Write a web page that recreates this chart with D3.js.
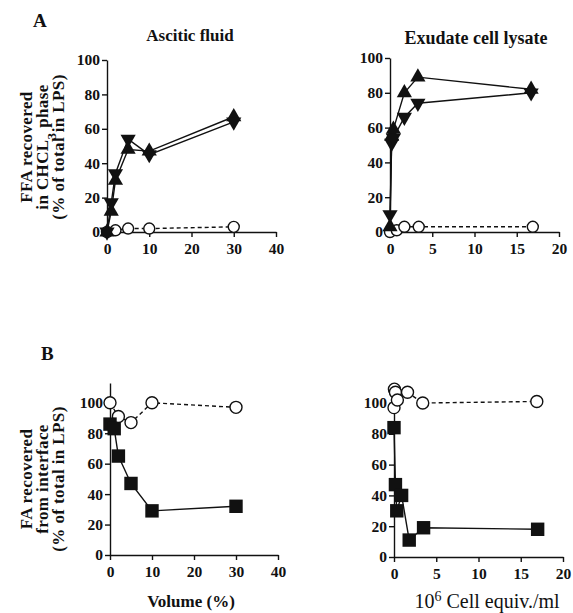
<!DOCTYPE html>
<html>
<head>
<meta charset="utf-8">
<script src="https://cdnjs.cloudflare.com/ajax/libs/d3/7.8.5/d3.min.js"></script>
<style>
  body { margin: 0; background: #fff; }
  svg text { font-family: "Liberation Serif", "DejaVu Serif", serif; font-weight: bold; fill: #111; }
  .axis path, .axis line { stroke: #111; stroke-width: 1.4; }
  .axis text { font-size: 15.5px; }
</style>
</head>
<body>
<svg width="573" height="613"></svg>
<script>

// ---- data ----
// panel A, ascitic fluid (x = volume %)
const ascX      = [0, 1, 2, 5, 10, 30];
const ascUp     = [0, 12, 30, 48, 47, 67];
const ascDown   = [0, 17, 34, 54, 45, 64];
const ascCircX  = [0, 2, 5, 10, 30];
const ascCirc   = [0, 1, 2, 2, 3];

// panel A, exudate cell lysate (x = 10^6 cell equiv./ml)
const lysX      = [0, 0.2, 0.4, 1.7, 3.3, 16.7];
const lysUp     = [3, 55, 59, 80, 89, 82];
const lysDown   = [10, 51, 54, 66, 74, 80];
const lysCircX  = [0, 0.8, 1.7, 3.4, 16.9];
const lysCirc   = [0, 1, 3, 3, 3];

// panel B, ascitic fluid
const ascBX     = [0, 1, 2, 5, 10, 30];
const ascSq     = [86, 83, 65, 47, 29, 32];
const ascBCircX = [0, 2, 5, 10, 30];
const ascBCirc  = [100, 91, 87, 100, 97];

// panel B, exudate cell lysate
const lysBX     = [0, 0.17, 0.33, 0.9, 1.8, 3.5, 17];
const lysSq     = [84, 47, 30, 40, 11, 19, 18];
const lysBCircX = [0, 0.05, 0.17, 0.4, 1.6, 3.4, 16.9];
const lysBCirc  = [97, 109, 107, 102, 107, 100, 101];

const yTicks = [0, 20, 40, 60, 80, 100];
const volTicks = [0, 10, 20, 30, 40];
const cellTicks = [0, 5, 10, 15, 20];

const zip = (xs, ys) => xs.map((x, i) => ({ x: x, y: ys[i] }));

const svg = d3.select('svg');

// one small plot
const panel = (opts) => {
  const x = d3.scaleLinear().domain(opts.xDomain).range(opts.xRange);
  const y = d3.scaleLinear().domain(opts.yDomain).range(opts.yRange);
  const g = svg.append('g');

  g.append('g')
    .attr('class', 'axis')
    .attr('transform', 'translate(0,' + y(0) + ')')
    .call(d3.axisBottom(x).tickValues(opts.xTicks).tickSize(5).tickSizeOuter(0).tickPadding(6));

  g.append('g')
    .attr('class', 'axis')
    .attr('transform', 'translate(' + x(0) + ',0)')
    .call(d3.axisLeft(y).tickValues(yTicks).tickSize(5).tickSizeOuter(0).tickPadding(2));

  const line = d3.line().x(d => x(d.x)).y(d => y(d.y));

  (opts.series || []).forEach(s => {
    g.append('path')
      .datum(s.data)
      .attr('d', line)
      .attr('fill', 'none')
      .attr('stroke', '#111')
      .attr('stroke-width', 1.4)
      .attr('stroke-dasharray', s.dash ? '4,3' : null);
  });

  (opts.series || []).forEach(s => {
    if (s.kind === 'circle') {
      g.selectAll(null).data(s.data).enter().append('circle')
        .attr('cx', d => x(d.x))
        .attr('cy', d => y(d.y))
        .attr('r', s.r)
        .attr('fill', '#fff')
        .attr('stroke', '#111')
        .attr('stroke-width', 1.4);
    } else {
      const sym = d3.symbol()
        .type(s.kind === 'square' ? d3.symbolSquare : d3.symbolTriangle)
        .size(s.size);
      g.selectAll(null).data(s.data).enter().append('path')
        .attr('d', sym)
        .attr('transform', d => 'translate(' + x(d.x) + ',' + y(d.y) + ')' + (s.kind === 'down' ? ' rotate(180)' : ''))
        .attr('fill', '#111');
    }
  });
};

// A - left
panel({
  xDomain: [0, 40], xRange: [107, 276], xTicks: volTicks,
  yDomain: [0, 100], yRange: [232, 60],
  series: [
    { kind: 'circle', dash: true, r: 5.5, data: zip(ascCircX, ascCirc) },
    { kind: 'up', size: 100, data: zip(ascX, ascUp) },
    { kind: 'down', size: 100, data: zip(ascX, ascDown) }
  ]
});

// A - right
panel({
  xDomain: [0, 20], xRange: [390, 559], xTicks: cellTicks,
  yDomain: [0, 100], yRange: [232, 58],
  series: [
    { kind: 'circle', dash: true, r: 5.5, data: zip(lysCircX, lysCirc) },
    { kind: 'up', size: 100, data: zip(lysX, lysUp) },
    { kind: 'down', size: 100, data: zip(lysX, lysDown) }
  ]
});

// B - left
panel({
  xDomain: [0, 40], xRange: [110, 278], xTicks: volTicks,
  yDomain: [0, 113], yRange: [555, 383],
  series: [
    { kind: 'circle', dash: true, r: 6, data: zip(ascBCircX, ascBCirc) },
    { kind: 'square', size: 180, data: zip(ascBX, ascSq) }
  ]
});

// B - right
panel({
  xDomain: [0, 20], xRange: [394, 563], xTicks: cellTicks,
  yDomain: [0, 113], yRange: [557, 383],
  series: [
    { kind: 'circle', dash: true, r: 6, data: zip(lysBCircX, lysBCirc) },
    { kind: 'square', size: 180, data: zip(lysBX, lysSq) }
  ]
});

// panel letters and titles
svg.append('text').attr('x', 33).attr('y', 27).style('font-size', '19px').text('A');
svg.append('text').attr('x', 41).attr('y', 360).style('font-size', '19px').text('B');
svg.append('text').attr('x', 190).attr('y', 41).attr('text-anchor', 'middle').style('font-size', '17px').text('Ascitic fluid');
svg.append('text').attr('x', 476).attr('y', 44).attr('text-anchor', 'middle').style('font-size', '18px').text('Exudate cell lysate');

// y axis titles (three lines each)
const yTitle = (cy, lines) => {
  const t = svg.append('text')
    .attr('transform', 'translate(0,' + cy + ') rotate(-90)')
    .attr('text-anchor', 'middle')
    .style('font-size', '17px')
    .style('letter-spacing', '0.4px');
  lines.forEach((l, i) => {
    const ts = t.append('tspan').attr('x', 0).attr('y', 32 + i * 16);
    l.forEach(part => {
      ts.append('tspan')
        .attr('baseline-shift', part.sub ? 'sub' : null)
        .style('font-size', part.sub ? '13px' : null)
        .text(part.t);
    });
  });
};
yTitle(147, [
  [{ t: 'FFA recovered' }],
  [{ t: 'in CHCL' }, { t: '3', sub: true }, { t: ' phase' }],
  [{ t: '(% of total in LPS)' }]
]);
yTitle(479, [
  [{ t: 'FA recovered' }],
  [{ t: 'from interface' }],
  [{ t: '(% of total in LPS)' }]
]);

// x axis titles
svg.append('text').attr('x', 191).attr('y', 607).attr('text-anchor', 'middle').style('font-size', '17px').text('Volume (%)');
const cx = svg.append('text').attr('x', 487).attr('y', 608).attr('text-anchor', 'middle').style('font-size', '20px').style('font-weight', 'normal');
cx.append('tspan').text('10');
cx.append('tspan').attr('baseline-shift', 'super').style('font-size', '14px').text('6');
cx.append('tspan').text(' Cell equiv./ml');

</script>
</body>
</html>
